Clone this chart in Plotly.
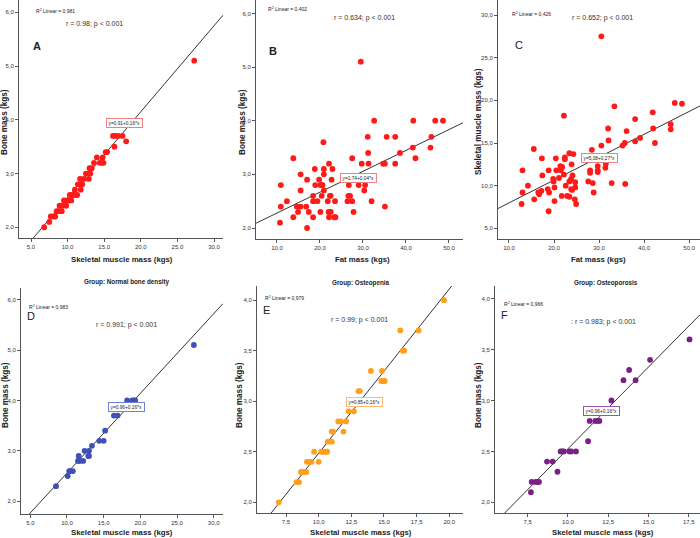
import plotly.graph_objects as go

W, H = 700, 538

# ---------------- data ----------------
# Panel A: skeletal muscle mass vs bone mass (all)
a_smm = [27.3, 16.2, 16.5, 16.9, 17.5, 18.0, 16.4, 15.2, 15.4, 14.0, 14.8,
         13.6, 14.4, 14.7, 14.9, 13.0, 13.3, 12.5, 12.8, 13.1, 11.7, 12.2, 12.9,
         11.4, 11.7, 12.0, 11.0, 11.8, 10.3, 10.6, 10.9, 11.3, 9.5, 9.9, 10.2,
         10.5, 8.9, 9.3, 9.8, 8.5, 8.8, 9.2, 7.7, 8.0, 8.3, 7.5, 6.8]
a_bone = [5.1, 3.7, 3.7, 3.7, 3.7, 3.6, 3.5, 3.4, 3.4, 3.3, 3.3,
          3.2, 3.2, 3.2, 3.2, 3.1, 3.1, 3.0, 3.0, 3.0, 2.9, 2.9, 2.9,
          2.8, 2.8, 2.8, 2.7, 2.7, 2.6, 2.6, 2.6, 2.6, 2.5, 2.5, 2.5,
          2.5, 2.4, 2.4, 2.4, 2.3, 2.3, 2.3, 2.2, 2.2, 2.2, 2.1, 2.0]

# Panel B: fat mass vs bone mass
b_fat = [29.5, 32.6, 41.7, 46.8, 48.6, 31.1, 35.5, 37.5, 45.9, 20.8, 41.6, 45.7,
         31.2, 38.6, 13.8, 27.5, 42.2, 22.1, 29.7, 31.3, 34.7, 35.1, 37.5,
         18.8, 20.9, 22.9, 15.5, 20.9, 17.0, 19.8, 22.7,
         10.9, 18.9, 20.1, 20.4, 20.6, 26.7, 29.0, 30.5, 15.5, 20.9, 30.3,
         18.4, 20.4, 22.3, 22.5, 26.6, 27.0,
         12.3, 18.4, 19.4, 21.8, 23.5, 26.4, 27.5, 32.0,
         10.9, 14.6, 15.5, 16.8, 35.1, 14.9, 17.4, 20.1, 22.0, 22.5, 27.8,
         13.8, 18.4, 22.1, 23.3, 23.6, 10.7, 17.0]
b_bone = [5.1, 4.0, 4.0, 4.0, 4.0, 3.7, 3.7, 3.7, 3.7, 3.6, 3.5, 3.5,
          3.4, 3.4, 3.3, 3.3, 3.3, 3.2, 3.2, 3.2, 3.2, 3.2, 3.2,
          3.1, 3.1, 3.1, 3.0, 3.0, 2.9, 2.9, 2.9,
          2.8, 2.8, 2.8, 2.8, 2.8, 2.8, 2.8, 2.8, 2.7, 2.7, 2.7,
          2.6, 2.6, 2.6, 2.6, 2.6, 2.6,
          2.5, 2.5, 2.5, 2.5, 2.5, 2.5, 2.5, 2.5,
          2.4, 2.4, 2.4, 2.4, 2.4, 2.3, 2.3, 2.3, 2.3, 2.3, 2.3,
          2.2, 2.2, 2.2, 2.2, 2.2, 2.1, 2.0]

# Panel C: fat mass vs skeletal muscle mass
c_fat = [30.5, 46.8, 48.4, 33.4, 22.2, 38.0, 41.9, 32.0, 42.0, 36.1, 45.9, 45.9,
         32.1, 39.1, 38.0, 42.4, 35.7, 35.2, 30.5, 15.5, 28.4, 13.0, 17.3, 23.4,
         24.3, 20.4, 22.4, 22.4, 31.5, 31.4, 23.9, 21.4, 21.8, 29.7, 28.0, 28.0,
         29.7, 29.7, 18.8, 20.5, 21.5, 17.4, 22.2, 24.1, 19.8, 21.1, 23.8, 23.4,
         27.6, 28.6, 24.7, 19.9, 32.8, 35.8, 14.2, 18.6, 20.1, 22.6, 23.8, 24.7,
         13.0, 16.5, 16.7, 17.2, 18.9, 24.0, 28.8, 21.7, 22.9, 23.4, 15.6, 24.6,
         20.1, 12.8, 24.9, 18.8]
c_smm = [27.5, 19.7, 19.6, 19.3, 18.2, 17.8, 18.6, 16.7, 16.7, 16.4, 17.2, 16.6,
         15.3, 15.6, 15.2, 15.0, 15.0, 14.7, 14.7, 14.3, 14.2, 11.8, 13.2, 13.8,
         13.7, 13.2, 13.3, 13.1, 12.6, 12.1, 12.5, 12.3, 12.2, 12.3, 11.8, 11.5,
         11.8, 11.6, 11.8, 11.8, 11.8, 11.2, 11.3, 11.2, 10.8, 10.9, 10.8, 10.5,
         10.5, 10.3, 10.4, 10.5, 10.3, 10.2, 10.0, 9.6, 9.8, 10.0, 9.6, 9.8,
         9.2, 9.2, 9.0, 9.4, 9.2, 9.5, 9.2, 8.8, 8.8, 8.7, 8.4, 8.4,
         8.2, 7.85, 7.85, 7.0]

# Panel D: Normal bone density
d_smm = [27.3, 18.2, 18.9, 19.1, 19.3, 16.4, 16.9, 15.2, 14.4, 15.0, 13.4,
         12.4, 13.0, 11.6, 12.9, 13.0, 11.5, 11.7, 12.2, 10.3, 10.4, 10.8, 10.1, 8.5]
d_bone = [5.1, 4.0, 4.0, 4.0, 4.0, 3.7, 3.7, 3.4, 3.2, 3.2, 3.1,
          3.0, 3.0, 2.9, 2.9, 2.9, 2.8, 2.8, 2.8, 2.6, 2.6, 2.6, 2.5, 2.3]

# Panel E: Osteopenia
e_smm = [19.6, 16.25, 17.65, 16.45, 16.55, 14.0, 14.85, 14.8, 14.95, 15.05, 13.05,
         13.15, 12.3, 12.7, 11.5, 11.7, 12.1, 11.0, 11.1, 11.9, 10.7, 11.0,
         9.65, 10.2, 10.35, 10.5, 10.65, 9.1, 9.3, 9.45, 10.0, 8.65, 8.8, 8.95, 9.05,
         8.3, 8.5, 6.95]
e_bone = [4.0, 3.7, 3.7, 3.5, 3.5, 3.3, 3.3, 3.2, 3.2, 3.2, 3.1,
          3.1, 2.9, 2.9, 2.8, 2.8, 2.8, 2.7, 2.7, 2.7, 2.6, 2.6,
          2.5, 2.5, 2.5, 2.5, 2.5, 2.4, 2.4, 2.4, 2.4, 2.3, 2.3, 2.3, 2.3,
          2.2, 2.2, 2.0]

# Panel F: Osteoporosis
f_smm = [17.55, 15.1, 13.8, 13.45, 14.2, 12.7, 11.35, 11.7, 11.85, 11.95, 11.25,
         9.55, 9.65, 9.75, 10.1, 10.2, 10.5, 8.7, 9.05, 9.35, 7.75, 8.0, 8.1, 8.2, 7.7]
f_bone = [3.6, 3.4, 3.3, 3.2, 3.2, 3.0, 2.8, 2.8, 2.8, 2.8, 2.6,
          2.5, 2.5, 2.5, 2.5, 2.5, 2.5, 2.4, 2.4, 2.3, 2.2, 2.2, 2.2, 2.2, 2.1]

# fit lines (intercept, slope) as drawn
fit_a = (0.95, 0.160)
fit_b = (1.89, 0.0389)
fit_c = (5.30, 0.268)
fit_d = (0.98, 0.158)
fit_e = (0.86, 0.1625)
fit_f = (0.92, 0.1606)

r2_labels = ["0,981", "0,402", "0,426", "0,983", "0,979", "0,966"]
r_labels = ["r = 0.98; p < 0.001", "r = 0.634; p < 0.001", "r = 0.652; p < 0.001",
            "r = 0.991; p < 0.001", "r = 0.99; p < 0.001", ": r = 0.983; p < 0.001"]
eq_labels = ["y=0,91+0,16*x", "y=1,74+0,04*x", "y=5,08+0,27*x",
             "y=0,96+0,16*x", "y=0,85+0,16*x", "y=0,96+0,16*x"]
group_titles = ["Group: Normal bone density", "Group: Osteopenia", "Group: Osteoporosis"]
panel_letters = ["A", "B", "C", "D", "E", "F"]

# ---------------- layout helpers ----------------
NARROW = "Liberation Sans Narrow, Arial Narrow, Liberation Sans, Arial"
REG = "Liberation Sans, Arial"


def px(x):
    return x / W


def py(y):
    return 1 - y / H


# panel geometry: (x_left_px, x_right_px, y_top_px, y_bottom_px, xrange, yrange, xdtick, ydtick)
panels = [
    (19, 223, 0, 238, [3.36, 31.23], [1.80, 6.23], 5, 1),
    (256, 463, 0, 239, [5.12, 53.26], [1.795, 6.25], 10, 1),
    (498, 700, 0, 239, [7.56, 52.4], [3.75, 31.76], 10, 5),
    (21, 223, 288, 514, [3.73, 31.27], [1.748, 6.23], 5, 1),
    (257, 463, 286, 513, [5.28, 21.05], [1.894, 4.14], 2.5, 0.5),
    (495, 700, 286, 513, [5.47, 18.2], [1.895, 4.125], 2.5, 0.5),
]

series = [(a_smm, a_bone, fit_a, "#ff1a1a"),
          (b_fat, b_bone, fit_b, "#ff1a1a"),
          (c_fat, c_smm, fit_c, "#ff1a1a"),
          (d_smm, d_bone, fit_d, "#3f51b5"),
          (e_smm, e_bone, fit_e, "#ff9f1a"),
          (f_smm, f_bone, fit_f, "#7a1f86")]

fig = go.Figure()
layout = dict(width=W, height=H, margin=dict(l=0, r=0, t=0, b=0),
              paper_bgcolor="white", plot_bgcolor="white", showlegend=False,
              separators=",.")

for i, (geom, ser) in enumerate(zip(panels, series)):
    xl, xr, yt, yb, xrg, yrg, xdt, ydt = geom
    xs, ys, (b0, b1), col = ser
    k = "" if i == 0 else str(i + 1)
    axcommon = dict(showgrid=False, zeroline=False, showline=True, linecolor="#555",
                    linewidth=1, ticks="outside", ticklen=3, tickcolor="#555",
                    tickformat=".1f", tickfont=dict(size=6, family=REG, color="#333"))
    layout["xaxis" + k] = dict(domain=[px(xl), px(xr)], range=xrg, dtick=xdt, tick0=0,
                               anchor="y" + k, **axcommon)
    layout["yaxis" + k] = dict(domain=[py(yb), py(yt)], range=yrg, dtick=ydt, tick0=0,
                               anchor="x" + k, **axcommon)
    fig.add_trace(go.Scatter(x=[xrg[0], xrg[1]], y=[b0 + b1 * xrg[0], b0 + b1 * xrg[1]],
                             mode="lines", line=dict(color="#333", width=1),
                             xaxis="x" + k, yaxis="y" + k, hoverinfo="skip"))
    fig.add_trace(go.Scatter(x=xs, y=ys, mode="markers",
                             marker=dict(color=col, size=5.8, line=dict(width=0)),
                             xaxis="x" + k, yaxis="y" + k))

ann = []


def text(t, x, y, size, family=NARROW, bold=False, xanchor="center", yanchor="middle",
         color="#222", textangle=0, **kw):
    if bold:
        t = "<b>" + t + "</b>"
    d = dict(text=t, x=px(x), y=py(y), xref="paper", yref="paper", showarrow=False,
             xanchor=xanchor, yanchor=yanchor, textangle=textangle,
             font=dict(size=size, family=family, color=color))
    d.update(kw)
    ann.append(d)


# axis titles
XT = 7.8
text("Skeletal muscle mass (kgs)", 122, 259, XT, bold=True)
text("Fat mass (kgs)", 362, 259, XT, bold=True)
text("Fat mass (kgs)", 598, 259, XT, bold=True)
text("Skeletal muscle mass (kgs)", 122, 532, XT, bold=True)
text("Skeletal muscle mass (kgs)", 361, 532, XT, bold=True)
text("Skeletal muscle mass (kgs)", 603, 532, XT, bold=True)
YT = 8.2
text("Bone mass (kgs)", 5, 122, YT, family=REG, bold=True, textangle=-90)
text("Bone mass (kgs)", 243, 122, YT, family=REG, bold=True, textangle=-90)
text("Skeletal muscle mass (kgs)", 479, 122, YT, family=REG, bold=True, textangle=-90)
text("Bone mass (kgs)", 5, 395, YT, family=REG, bold=True, textangle=-90)
text("Bone mass (kgs)", 239, 395, YT, family=REG, bold=True, textangle=-90)
text("Bone mass (kgs)", 478, 395, YT, family=REG, bold=True, textangle=-90)

# group titles
text(group_titles[0], 127, 282, 6.3, bold=True)
text(group_titles[1], 361, 283, 6.3, bold=True)
text(group_titles[2], 606, 283, 6.3, bold=True)

# R2 labels
r2_pos = [(34, 11), (266, 9), (510, 14), (27, 307), (263, 298), (502, 304)]
for lab, (x, y) in zip(r2_labels, r2_pos):
    text("R<sup>2</sup> Linear = " + lab, x, y, 5, xanchor="left")

# r labels
r_pos = [(95, 24), (364, 18), (602, 18), (126, 325), (359, 320), (603, 322)]
for lab, (x, y) in zip(r_labels, r_pos):
    text(lab, x, y, 7, color="#333")

# panel letters
let_pos = [(37, 46), (273, 51), (519, 45), (31, 316), (266, 310), (504, 315)]
for j, (lab, (x, y)) in enumerate(zip(panel_letters, let_pos)):
    text(lab, x, y, 11, family=REG, bold=(j < 2))

# equation boxes
eq_pos = [(124.5, 122.5), (358.5, 177.5), (599, 158.5), (126.5, 406.5), (364.5, 401.5), (601, 411)]
eq_cols = ["#f08080", "#f08080", "#f08080", "#7080d8", "#ffb870", "#a050b0"]
for lab, (x, y), bc in zip(eq_labels, eq_pos, eq_cols):
    text(lab, x, y, 4.8, bordercolor=bc, borderwidth=1, borderpad=1.5, bgcolor="white")

layout["annotations"] = ann
fig.update_layout(**layout)
fig.write_html("out.html")
